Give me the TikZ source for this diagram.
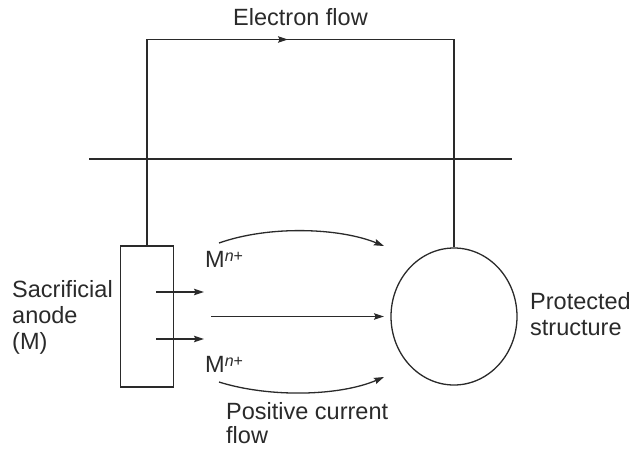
\documentclass[tikz,border=0pt]{standalone}
\usepackage{fontspec}
\setmainfont{Liberation Sans}
\usetikzlibrary{arrows.meta,shapes.geometric}
\definecolor{ink}{HTML}{2A2A2A}
\newcommand\mion{M{\fontsize{16}{16}\selectfont\raisebox{6pt}{\textit{n}+}}}
\begin{document}
\begin{tikzpicture}[x=1pt,y=-1pt]
\tikzset{
  wire/.style={draw=ink, line width=1.3pt},
  tip/.style={-{Stealth[length=10pt,width=6.5pt,inset=1.5pt]}},
  lbl/.style={text=ink, inner sep=0pt, font=\fontsize{23.5}{26}\selectfont, align=left},
}
\useasboundingbox (0,0) rectangle (631,448);
% main shapes
\node[wire, draw, minimum width=53pt, minimum height=141pt, inner sep=0pt] (anode) at (147,316.5) {};
\node[wire, draw, ellipse, minimum width=126pt, minimum height=137pt, inner sep=0pt] (structure) at (454,316.5) {};
% external circuit
\coordinate (tl) at (147,39.5);
\coordinate (tr) at (454,39.5);
\coordinate (tmid) at (288,39.5);
\draw[wire] (anode.north) -- (tl) -- (tr) -- (structure.north);
\draw[wire, tip] (tl) -- (tmid);
% ground line
\coordinate (gl) at (89,159);
\coordinate (gr) at (512,159);
\draw[wire] (gl) -- (gr);
% short arrows from anode
\coordinate (a1s) at (156,292);
\coordinate (a1e) at (204,292);
\coordinate (a2s) at (156,339);
\coordinate (a2e) at (204,339);
\draw[wire, tip] (a1s) -- (a1e);
\draw[wire, tip] (a2s) -- (a2e);
% middle arrow
\coordinate (ms) at (211,316.5);
\coordinate (me) at (384,316.5);
\draw[wire, tip] (ms) -- (me);
% curved arrows
\coordinate (c1s) at (219,243);
\coordinate (c1e) at (384,246);
\coordinate (c2s) at (219,382);
\coordinate (c2e) at (384,377);
\draw[wire, tip] (c1s) .. controls (270,225) and (340,228) .. (c1e);
\draw[wire, tip] (c2s) .. controls (270,398) and (340,396) .. (c2e);
% labels
\node[lbl, anchor=base] (ef) at (300.5,25) {Electron flow};
\node[lbl, anchor=base west] (sa) at (12,349) {Sacrificial\\anode\\(M)};
\node[lbl, anchor=base west] (ps) at (530,335) {Protected\\structure};
\node[lbl, anchor=base west, text depth=0pt] (pc) at (226,443) {Positive current\\[-2pt]flow};
\node[lbl, anchor=base west] (mi1) at (205,267) {\mion};
\node[lbl, anchor=base west] (mi2) at (205,372) {\mion};
\end{tikzpicture}
\end{document}
